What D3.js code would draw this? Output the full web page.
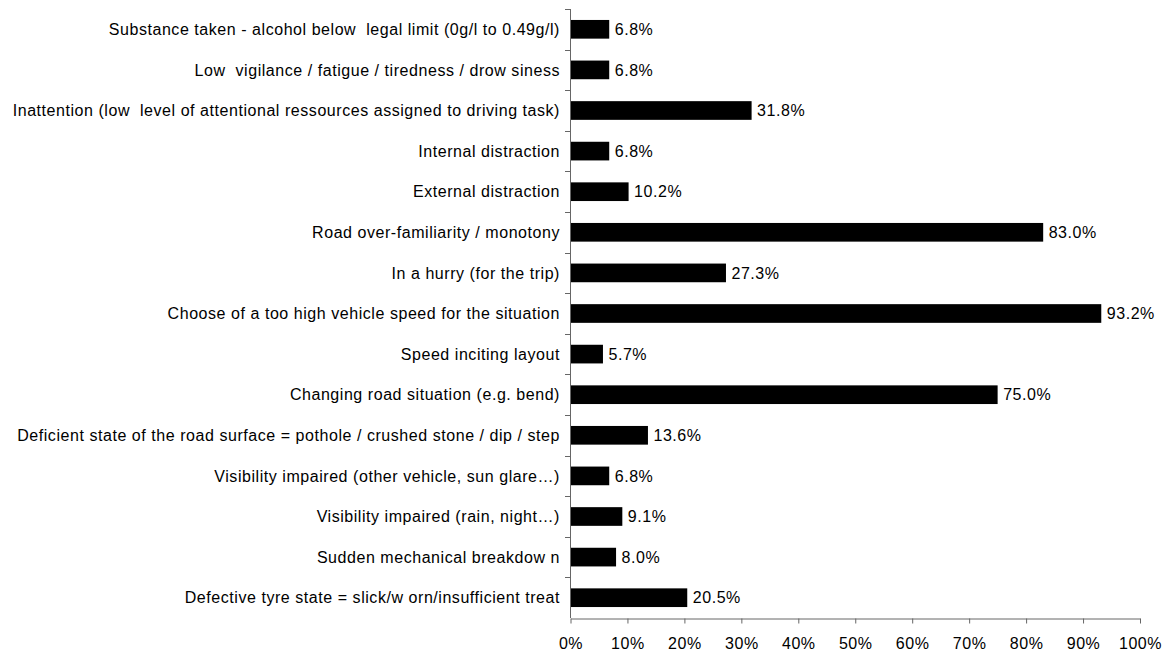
<!DOCTYPE html>
<html><head><meta charset="utf-8">
<script src="https://cdn.jsdelivr.net/npm/d3@7"></script>
<style>body{margin:0;background:#fff}text{font-family:"Liberation Sans",Arial,sans-serif}</style>
</head><body><svg id="c" width="1167" height="654"></svg>
<script>
const categories = [
 "Substance taken - alcohol below  legal limit (0g/l to 0.49g/l)",
 "Low  vigilance / fatigue / tiredness / drow siness",
 "Inattention (low  level of attentional ressources assigned to driving task)",
 "Internal distraction",
 "External distraction",
 "Road over-familiarity / monotony",
 "In a hurry (for the trip)",
 "Choose of a too high vehicle speed for the situation",
 "Speed inciting layout",
 "Changing road situation (e.g. bend)",
 "Deficient state of the road surface = pothole / crushed stone / dip / step",
 "Visibility impaired (other vehicle, sun glare…)",
 "Visibility impaired (rain, night…)",
 "Sudden mechanical breakdow n",
 "Defective tyre state = slick/w orn/insufficient treat"
];
const values = [6.8, 6.8, 31.8, 6.8, 10.2, 83.0, 27.3, 93.2, 5.7, 75.0, 13.6, 6.8, 9.1, 8.0, 20.5];
const xTicks = [0,10,20,30,40,50,60,70,80,90,100];

(function(){
const svg = d3.select("#c");
const mLeft = 570, mRight = 1139.5, mTop = 9, mBottom = 618;
const fs = 16, ls = "0.55px";
const x = d3.scaleLinear().domain([0,100]).range([mLeft,mRight]);
const y = d3.scaleBand().domain(categories).range([mTop,mBottom]).paddingInner(0.54).paddingOuter(0.27);
const band = (mBottom-mTop)/categories.length;
const axisCol = "#666";

svg.selectAll("rect.bar").data(values).enter().append("rect")
  .attr("x", x(0)+0.5).attr("y",(d,i)=>y(categories[i]))
  .attr("width", d=>x(d)-x(0)).attr("height", y.bandwidth()).attr("fill","#000");

svg.selectAll("text.val").data(values).enter().append("text")
  .attr("x", d=>x(d)+6).attr("y",(d,i)=>y(categories[i])+y.bandwidth()/2)
  .attr("dy","0.35em").attr("font-size",fs).style("letter-spacing",ls).attr("fill","#000")
  .text(d=>d.toFixed(1)+"%");

svg.selectAll("text.cat").data(categories).enter().append("text")
  .attr("x", mLeft-10).attr("y", d=>y(d)+y.bandwidth()/2).attr("dy","0.35em")
  .attr("text-anchor","end").attr("font-size",fs).style("letter-spacing",ls).attr("fill","#000")
  .style("white-space","pre").text(d=>d);

svg.append("line").attr("x1",mLeft+0.5).attr("x2",mLeft+0.5).attr("y1",mTop).attr("y2",mBottom).attr("stroke",axisCol);
d3.range(categories.length).forEach(i=>{
  const yy = Math.round(mTop + i*band)+0.5;
  svg.append("line").attr("x1",mLeft-5).attr("x2",mLeft).attr("y1",yy).attr("y2",yy).attr("stroke",axisCol);
});

const xAxis = d3.axisBottom(x).tickValues(xTicks).tickFormat(d=>d+"%").tickSize(5).tickSizeOuter(0);
const g = svg.append("g").attr("transform",`translate(0.5,${mBottom+0.5})`).call(xAxis);
g.select(".domain").attr("stroke",axisCol);
g.selectAll(".tick line").attr("stroke",axisCol);
g.selectAll(".tick text").attr("font-size",fs).style("letter-spacing",ls).attr("fill","#000").attr("font-family","Liberation Sans, Arial, sans-serif").attr("y",19);
})();
</script></body></html>
